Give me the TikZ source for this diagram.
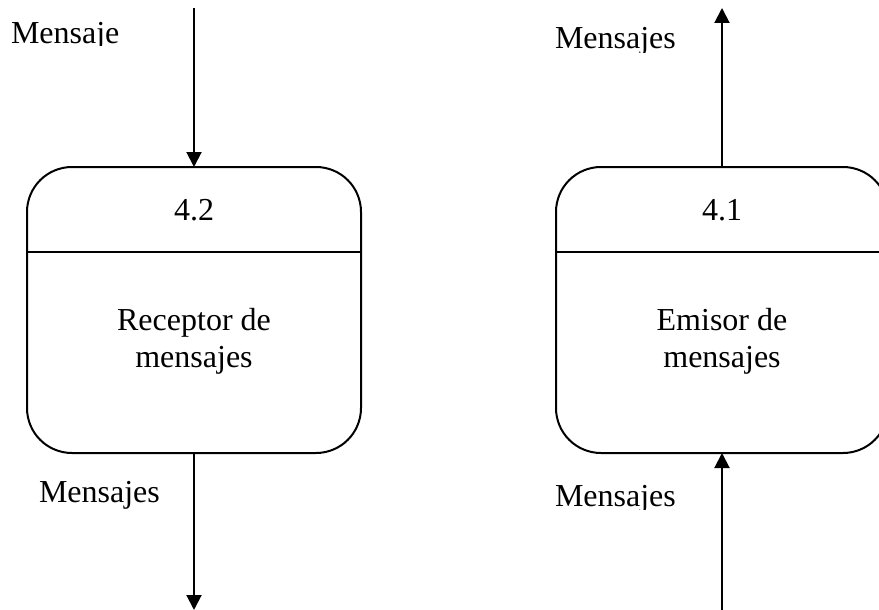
\documentclass[tikz,border=0pt]{standalone}
\usepackage{fontspec}
\setmainfont{Liberation Serif}
\usetikzlibrary{arrows.meta}

\begin{document}
\begin{tikzpicture}[x=1pt,y=-1pt,
  every node/.style={font=\fontsize{32}{37}\selectfont, inner sep=0pt, outer sep=0pt},
  procbox/.style={draw, line width=2pt, rounded corners=45pt, rectangle,
                  minimum width=334pt, minimum height=286pt},
  divider/.style={line width=2pt},
  flow/.style={line width=2pt, -{Triangle[length=15pt,width=15pt]}},
  lbl/.style={anchor=base west}
]
\useasboundingbox (0,0) rectangle (879,610);

% process boxes
\node[procbox] (recv) at (194,310) {};
\node[procbox, minimum width=332pt] (emit) at (722,310) {};

% header separators
\draw[divider] (recv.west |- 0,252) -- (recv.east |- 0,252);
\draw[divider] (emit.west |- 0,252) -- (emit.east |- 0,252);

% process numbers and names
\node[anchor=base] (recvnum) at (194,220) {4.2};
\node[anchor=base] (emitnum) at (722,220) {4.1};
\node[align=center] (recvname) at (194,341.5) {Receptor de\\mensajes};
\node[align=center] (emitname) at (722,341.5) {Emisor de\\mensajes};

% free ends of the flows
\coordinate (recvin)  at (194,8);
\coordinate (recvout) at (194,610);
\coordinate (emitout) at (722,8);
\coordinate (emitin)  at (722,612);

% data flows
\draw[flow] (recvin) -- (recv.north);
\draw[flow] (recv.south) -- (recvout);
\draw[flow] (emit.north) -- (emitout);
\draw[flow] (emitin) -- (emit.south);

% flow labels (text frames cut the descenders)
\begin{scope}
  \clip (0,0) rectangle (160,46);
  \node[lbl] (lblin) at (11,44) {Mensaje};
\end{scope}
\begin{scope}
  \clip (540,0) rectangle (700,53);
  \node[lbl] (lblout) at (555,49) {Mensajes};
\end{scope}
\node[lbl] (lbldown) at (39,502) {Mensajes};
\begin{scope}
  \clip (540,470) rectangle (700,509);
  \node[lbl] (lblup) at (555,506) {Mensajes};
\end{scope}
\end{tikzpicture}
\end{document}
